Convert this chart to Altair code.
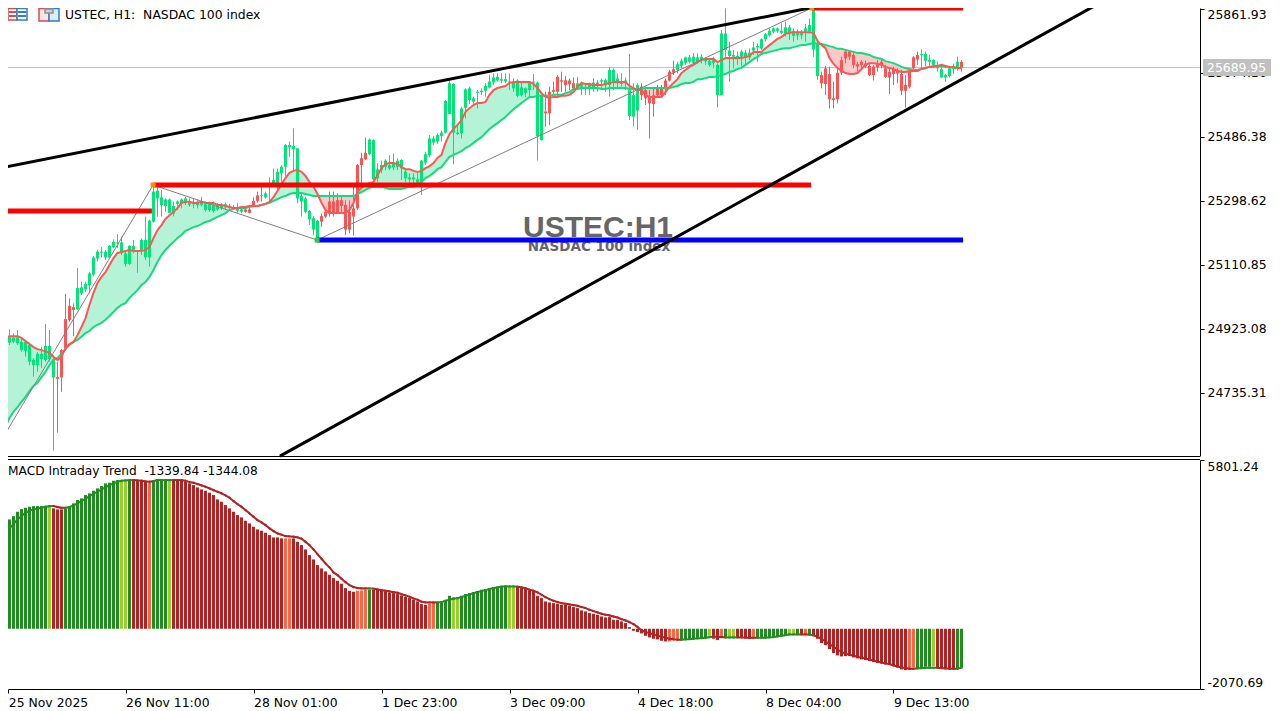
import altair as alt
import pandas as pd

BASE = 25000
# price arrays: index points above 25000
OPEN = [-119,-114,-117,-114,-119,-139,-141,-173,-183,-183,
-165,-168,-166,-219,-218,-139,-48,-9,-13,-19,
28,39,52,83,130,147,133,133,163,174,
145,114,114,155,152,155,133,133,238,306,
287,284,264,262,290,292,294,288,289,287,
287,272,272,270,274,277,280,280,276,270,
267,274,274,299,315,315,309,345,345,345,
380,399,456,450,306,297,267,245,215,189,
254,267,297,297,301,301,287,267,277,404,
424,440,436,362,365,389,399,394,397,399,
394,365,362,362,352,352,411,433,470,473,
489,499,554,499,495,497,572,595,590,616,
618,622,632,646,652,652,649,646,629,607,
609,616,624,646,489,477,561,619,624,663,
653,653,652,644,629,629,629,629,629,639,
649,644,639,649,649,642,644,548,546,564,
634,624,605,609,629,629,652,678,685,683,
695,704,707,704,707,712,709,698,704,609,
609,742,724,722,720,722,722,720,740,749,
746,773,785,795,798,792,790,788,783,785,
785,792,795,743,665,668,688,671,600,675,
712,737,737,727,700,707,702,695,693,702,
707,688,678,685,683,671,639,678,720,727,
727,710,707,698,688,661,661,665,688,688,
707]
CLOSE = [-80,-100,-102,-102,-102,-115,-115,-124,-168,-150,
-150,-127,-127,-166,-223,-219,-134,-51,-21,43,
45,55,86,133,150,150,150,167,179,177,
177,145,167,167,155,184,184,241,326,329,
309,303,303,284,297,303,306,296,294,297,
297,289,289,287,287,287,289,284,280,280,
274,267,264,287,299,313,321,348,360,384,
399,463,463,460,453,313,306,269,248,241,
238,253,262,262,264,284,215,215,253,277,
404,421,479,477,391,404,417,404,409,417,
419,385,368,368,362,417,436,482,482,492,
499,592,644,642,499,570,626,629,600,619,
622,636,649,661,663,656,656,649,646,652,
632,629,646,649,646,607,556,556,619,619,
649,639,641,629,644,644,634,644,646,646,
653,653,683,683,658,649,652,624,609,639,
609,600,585,583,609,609,629,652,675,700,
710,720,720,722,720,722,714,710,714,698,
790,790,740,727,724,737,734,734,749,753,
773,788,798,805,805,798,808,808,798,795,
795,805,815,859,761,644,642,597,595,597,
675,717,722,698,693,698,693,668,668,691,
698,663,661,671,673,622,622,634,688,714,
730,730,712,712,698,685,668,688,693,707,
690]
HIGH = [-75,-80,-78,-90,-80,-104,-109,-119,-163,-144,
-129,-62,-80,-153,-173,-136,26,13,-2,102,
62,62,91,137,155,163,155,169,186,201,
194,155,169,184,155,189,253,243,345,341,
331,306,306,297,301,306,311,306,306,303,
311,297,297,297,292,292,294,290,287,292,
282,282,282,309,326,339,326,368,394,394,
404,466,473,512,453,321,311,272,254,243,
262,272,326,326,321,311,301,301,350,407,
440,485,482,479,409,417,421,433,438,424,
421,389,380,380,380,419,443,492,489,497,
505,595,658,644,521,575,629,634,605,624,
629,644,668,673,673,673,673,673,658,656,
649,632,649,671,649,609,619,634,649,668,
678,665,658,661,663,649,644,646,658,653,
658,658,691,688,673,673,661,730,644,644,
644,629,624,629,639,639,658,683,710,707,
717,722,727,732,732,730,720,717,722,702,
800,864,766,742,737,742,742,746,766,761,
776,792,805,808,808,820,825,815,805,802,
800,818,834,864,766,678,695,693,649,688,
722,740,742,737,707,712,710,704,698,712,
712,698,688,693,688,683,668,688,724,737,
743,737,727,714,707,693,671,693,702,722,
712]
LOW = [-121,-121,-124,-119,-124,-144,-158,-183,-217,-202,
-192,-173,-173,-434,-381,-261,-139,-56,-98,-21,
23,32,28,77,121,133,125,130,160,160,
140,106,111,145,88,140,125,106,235,253,
253,267,262,253,272,277,287,282,277,277,
282,267,267,264,270,272,272,276,272,264,
262,264,262,282,294,297,306,297,341,326,
345,370,428,389,292,253,262,228,199,184,
223,248,253,253,260,262,199,204,197,272,
350,419,433,345,355,380,389,389,389,389,
360,355,350,350,345,316,404,427,463,466,
473,497,585,406,492,482,541,583,580,570,
609,605,629,639,649,644,644,624,619,603,
605,603,605,624,417,476,517,521,612,609,
619,619,624,624,624,609,609,609,619,619,
624,619,605,624,629,634,624,536,517,507,
595,580,482,546,605,605,609,649,668,673,
688,698,702,698,702,702,698,693,688,573,
609,722,649,688,698,693,698,712,727,707,
742,766,781,790,792,788,781,771,766,771,
773,766,790,722,654,629,609,570,570,585,
668,702,712,688,678,688,688,665,652,678,
688,659,612,639,644,609,573,629,678,698,
683,693,695,688,678,659,649,661,671,681,
678]
FAST = [-112,-103,-98,-98,-98,-103,-112,-121,-130,-136,
-139,-142,-147,-159,-168,-159,-133,-121,-115,-95,
-71,-45,-6,29,58,76,90,111,131,146,
149,152,155,152,152,152,155,164,190,213,
228,246,257,266,278,293,296,296,293,293,
296,293,293,293,287,287,284,281,278,278,
281,281,284,284,284,287,290,296,310,328,
348,366,381,387,390,384,372,354,340,319,
293,272,263,263,263,263,263,272,293,325,
337,346,351,354,375,395,407,410,410,407,
398,392,392,387,384,387,395,401,410,425,
434,469,495,510,522,536,560,571,580,586,
586,589,610,624,630,633,636,645,648,648,
648,648,648,642,630,615,604,601,604,604,
607,607,610,618,633,645,642,642,639,639,
639,642,645,648,648,648,648,636,630,624,
624,610,604,604,604,604,618,633,645,656,
674,683,692,698,706,712,715,715,715,706,
712,718,718,718,718,718,721,724,736,736,
736,747,756,765,774,780,789,792,794,794,
794,794,794,792,768,756,747,718,701,689,
680,674,671,671,674,686,698,703,703,701,
698,692,689,686,680,677,677,680,680,680,
686,689,692,695,695,698,695,692,692,689,
689]
SLOW = [-388,-364,-338,-320,-306,-291,-276,-259,-244,-235,
-218,-203,-183,-168,-162,-150,-136,-124,-115,-109,
-100,-89,-83,-71,-65,-59,-50,-39,-27,-15,
-6,-1,14,26,37,52,61,76,96,120,
140,155,167,178,190,199,211,216,222,225,
231,237,240,246,252,257,263,272,275,278,
278,278,281,284,284,287,290,293,299,304,
310,313,319,322,322,322,319,316,313,313,
313,313,313,313,313,313,313,313,313,319,
325,331,337,340,340,340,337,334,334,334,
334,337,340,340,346,354,366,372,381,392,
398,413,428,434,439,445,454,460,469,478,
486,498,510,519,527,536,545,557,568,577,
586,595,604,604,607,607,607,607,610,610,
610,615,618,627,627,630,630,630,630,630,
627,627,630,630,630,630,630,627,627,627,
627,630,630,630,630,630,630,630,633,636,
642,645,645,648,656,656,659,662,662,665,
668,671,677,680,686,689,698,706,715,721,
730,733,736,739,742,745,747,747,750,753,
756,756,759,762,759,759,756,753,750,745,
745,742,739,736,733,733,730,727,721,718,
715,709,706,703,698,692,689,686,683,683,
686,689,692,692,695,695,692,692,689,689,
689]
HIST = [3507,3679,3759,3873,4022,4114,4160,4194,4217,4217,
4217,4217,4194,4137,4103,4103,4137,4217,4309,4424,
4481,4595,4653,4744,4825,4905,4997,5019,5088,5111,
5111,5111,5134,5134,5111,5088,5054,5019,5088,5134,
5134,5134,5134,5134,5111,5088,5054,4997,4939,4859,
4790,4744,4676,4595,4446,4366,4252,4137,4022,3908,
3828,3713,3621,3507,3415,3369,3300,3220,3140,3140,
3106,3106,3106,3106,2991,2876,2727,2533,2384,2189,
2074,1971,1857,1742,1650,1547,1398,1306,1272,1306,
1318,1341,1341,1341,1341,1318,1284,1249,1226,1192,
1146,1089,1054,997,940,848,825,860,882,905,
905,974,1134,1089,1089,1134,1192,1226,1260,1295,
1341,1364,1398,1433,1444,1478,1478,1455,1433,1455,
1398,1364,1318,1284,1134,1054,940,905,882,860,
825,825,791,745,710,630,596,539,516,481,
424,390,401,309,309,252,195,57,-69,-115,
-160,-241,-298,-344,-367,-413,-435,-435,-390,-367,
-355,-355,-344,-321,-321,-321,-298,-241,-344,-390,
-298,-298,-298,-298,-298,-321,-298,-355,-275,-321,
-321,-321,-298,-275,-252,-229,-206,-183,-183,-183,
-206,-183,-183,-229,-344,-493,-562,-699,-837,-917,
-951,-940,-940,-986,-1020,-1054,-1077,-1112,-1146,-1180,
-1192,-1215,-1238,-1272,-1329,-1398,-1421,-1421,-1329,-1375,
-1329,-1306,-1306,-1284,-1329,-1352,-1387,-1398,-1387,-1375,
-1340]
SIGNAL = [3071,3255,3449,3598,3759,3873,3988,4057,4103,4137,
4160,4194,4217,4217,4183,4160,4160,4183,4240,4309,
4389,4469,4561,4641,4710,4790,4859,4939,4997,5054,
5088,5100,5111,5111,5100,5088,5065,5054,5077,5111,
5111,5111,5111,5111,5111,5111,5088,5042,5019,4974,
4928,4882,4825,4767,4710,4653,4584,4504,4389,4286,
4194,4080,3965,3851,3736,3656,3564,3449,3358,3278,
3232,3186,3174,3163,3140,3094,2991,2876,2727,2567,
2407,2246,2109,1937,1845,1719,1604,1501,1433,1398,
1387,1387,1387,1375,1352,1329,1306,1284,1261,1238,
1192,1146,1100,1043,997,928,905,905,905,905,
917,963,997,1031,1054,1089,1134,1180,1226,1261,
1295,1329,1364,1398,1421,1444,1455,1455,1455,1444,
1421,1398,1341,1306,1249,1169,1089,1020,963,917,
882,860,837,814,791,745,711,653,607,562,
516,481,458,424,390,332,286,229,160,60,
-60,-115,-149,-195,-241,-275,-309,-344,-367,-378,
-378,-367,-355,-344,-332,-321,-309,-286,-275,-275,
-286,-298,-298,-298,-298,-298,-309,-309,-309,-309,
-309,-309,-298,-286,-264,-241,-218,-195,-195,-195,
-195,-195,-206,-229,-275,-344,-435,-527,-619,-711,
-791,-859,-894,-928,-963,-997,-1020,-1054,-1089,-1123,
-1157,-1192,-1215,-1261,-1295,-1329,-1352,-1375,-1375,-1364,
-1352,-1341,-1341,-1341,-1341,-1352,-1364,-1375,-1375,-1375,
-1344]
STATE_RUNS = [("g",12),("y",1),("r",3),("g",14),("y",2),("g",1),("r",4),("t",1),("g",4),("y",1),
("r",28),("t",2),("r",16),("t",3),("g",1),("r",14),("t",2),("g",4),("y",2),("g",12),("y",2),
("r",38),("t",3),("g",7),("y",1),("r",2),("t",1),("g",1),("y",2),("r",4),("t",1),("g",8),("y",2),
("g",1),("r",1),("t",1),("g",1),("r",24),("t",2),("g",4),("y",1),("r",5),("g",2)]
STATE = [s for s, n in STATE_RUNS for _ in range(n)]

PRICE_TICKS = [25861.93, 25674.16, 25486.38, 25298.62, 25110.85, 24923.08, 24735.31]
MACD_TICKS = [5801.24, -2070.69]
TIME_BARS = [1.7, 31, 63, 95, 127, 159, 191, 223]
TIME_LABELS = ["25 Nov 2025", "26 Nov 11:00", "28 Nov 01:00", "1 Dec 23:00",
               "3 Dec 09:00", "4 Dec 18:00", "8 Dec 04:00", "9 Dec 13:00"]
LAST_PRICE = 25689.95

# drawn objects: bar index, price-above-25000
UP_TREND = ([-0.4, 214.6], [395, 894])
LOW_TREND = ([69.6, 275.9], [-450, 888])
ZIGZAG = ([-0.4, 37.9, 78.9, 202.6], [-411, 345.5, 184, 865])
RED_LEVELS = [(-0.4, 37.6, 269), (38, 202.4, 345.5), (202.6, 240.4, 865)]
BLUE_LEVELS = [(78.9, 240.4, 184)]
PIVOTS = [(37.9, 345.5, "#ff8c00"), (78.9, 184, "#32cd32"), (202.6, 865, "#ff8c00")]

n = len(OPEN)
assert all(len(a) == n for a in (CLOSE, HIGH, LOW, FAST, SLOW, HIST, SIGNAL, STATE)) and n == 241
df = pd.DataFrame({"i": range(n), "open": OPEN, "close": CLOSE, "high": HIGH, "low": LOW,
                   "fast": FAST, "slow": SLOW, "hist": HIST, "sig": SIGNAL, "state": STATE})
for c in ["open", "close", "high", "low", "fast", "slow"]:
    df[c] = df[c] + BASE
df["candle"] = ["#00e676" if c >= o else "#ff5252" for o, c in zip(df["open"], df["close"])]
df["gt"] = df[["fast", "slow"]].max(axis=1)
df["lt"] = df[["fast", "slow"]].min(axis=1)
df["i2"] = df["i"] + 1
df["sig2"] = df["sig"].shift(-1)
HISTC = {"g": "#228b22", "y": "#9acd32", "r": "#b22222", "t": "#ff6347"}
SIGC = {"g": "#228b22", "y": "#228b22", "r": "#b22222", "t": "#b22222"}
df["hc"] = df["state"].map(HISTC)
df["sc"] = df["state"].map(SIGC)
seg = df.iloc[:-1]

W, H = 1192, 681
FONT = "DejaVu Sans"
xscale = alt.Scale(domain=[1.625, 299.625], range=[0, W], nice=False, zero=False, padding=0)
xaxis = alt.Axis(values=TIME_BARS, title=None, grid=False, labelAlign="left", labelPadding=3, tickSize=4,
                 labelExpr="%s[indexof(%s, datum.value)]" % (TIME_LABELS, TIME_BARS),
                 labelFontSize=12.4, labelFont=FONT, labelColor="#000", labelOverlap=False,
                 labelFlush=False, domainColor="#000", tickColor="#000")
mscale = alt.Scale(domain=[24550.4, 25864.8], range=[448, 0], nice=False, zero=False)
maxis = alt.Axis(values=PRICE_TICKS, title=None, grid=False, orient="right", offset=0, format=".2f",
                 tickSize=4, labelPadding=3, labelFontSize=12.4, labelFont=FONT, labelColor="#000",
                 labelOverlap=False, labelFlush=False, domainColor="#000", tickColor="#000",
                 labelBaseline={"condition": {"test": "datum.value > 25800", "value": "top"}, "value": "middle"})
dscale = alt.Scale(domain=[-2070.69, 5801.24], range=[H, 452], nice=False, zero=False)
daxis = alt.Axis(values=MACD_TICKS, title=None, grid=False, orient="right", offset=0, format=".2f",
                 labelExpr="replace(datum.label, '\u2212', '-')",
                 tickSize=4, labelPadding=3, labelFontSize=12.4, labelFont=FONT, labelColor="#000",
                 labelOverlap=False, labelFlush=False, domainColor="#000", tickColor="#000",
                 labelBaseline={"condition": {"test": "datum.value > 0", "value": "top"}, "value": "bottom"})

X = lambda f="i": alt.X(f"{f}:Q", scale=xscale, axis=xaxis)
YM = lambda f: alt.Y(f"{f}:Q", scale=mscale, axis=maxis)
YD = lambda f: alt.Y(f"{f}:Q", scale=dscale, axis=daxis)
C = lambda f: alt.Color(f"{f}:N", scale=None, legend=None)
ONE = pd.DataFrame({"a": [0]})


def levels(rows, color):
    d = pd.DataFrame(rows, columns=["a", "b", "p"])
    d["p"] = d["p"] + BASE
    return alt.Chart(d).mark_rule(strokeWidth=5, color=color, clip=True).encode(x=X("a"), x2="b:Q", y=YM("p"))


def polyline(pair, color, w):
    d = pd.DataFrame({"a": pair[0], "p": [p + BASE for p in pair[1]]})
    return alt.Chart(d).mark_line(color=color, strokeWidth=w, clip=True).encode(x=X("a"), y=YM("p"))


base = alt.Chart(df)
main_layers = [
    alt.Chart(pd.DataFrame({"p": [LAST_PRICE]})).mark_rule(color="#c0c0c0", strokeWidth=1).encode(
        y=YM("p"), x=alt.value(0), x2=alt.value(W)),
    base.mark_area(color="#b4f3d6", clip=True).encode(x=X(), y=YM("gt"), y2="slow:Q"),
    base.mark_area(color="#fbc9c9", clip=True).encode(x=X(), y=YM("lt"), y2="slow:Q"),
    base.mark_rule(strokeWidth=1, clip=True).encode(x=X(), y=YM("low"), y2="high:Q", color=C("candle")),
    base.mark_bar(size=3, orient="vertical", clip=True).encode(x=X(), y=YM("open"), y2="close:Q", color=C("candle")),
    base.mark_line(color="#13dc7c", strokeWidth=2, clip=True).encode(x=X(), y=YM("slow")),
    base.mark_line(color="#ff5555", strokeWidth=2, clip=True).encode(x=X(), y=YM("fast")),
]
main_layers += [alt.Chart(ONE).mark_text(text="USTEC:H1", font="Liberation Sans", fontWeight="bold", fontSize=30,
                                         color="#666666", align="center", baseline="middle").encode(
                    x=alt.value(590), y=alt.value(220)),
                alt.Chart(ONE).mark_text(text="NASDAC 100 index", font=FONT, fontWeight="bold", fontSize=13.5,
                                         color="#666666", align="center", baseline="middle").encode(
                    x=alt.value(591), y=alt.value(239))]
main_layers += [polyline(ZIGZAG, "#808080", 1), levels(RED_LEVELS, "#ff0000"), levels(BLUE_LEVELS, "#0000ff"),
                polyline(UP_TREND, "#000000", 3), polyline(LOW_TREND, "#000000", 3)]
piv = pd.DataFrame(PIVOTS, columns=["a", "p", "c"])
piv["p"] = piv["p"] + BASE
main_layers.append(alt.Chart(piv).mark_point(shape="square", filled=True, size=25, opacity=1, clip=True).encode(
    x=X("a"), y=YM("p"), color=C("c")))

macd_layers = [
    base.mark_bar(size=3, orient="vertical", clip=True).encode(
        x=X(), y=YD("hist"), y2=alt.datum(0), color=C("hc")),
    alt.Chart(seg).mark_rule(strokeWidth=2, strokeCap="square", clip=True).encode(
        x=X(), x2="i2:Q", y=YD("sig"), y2="sig2:Q", color=C("sc")),
]


def txt(s, x, y, **kw):
    o = dict(font=FONT, fontSize=12.4, color="#000000", align="left", baseline="middle")
    o.update(kw)
    return alt.Chart(ONE).mark_text(text=s, **o).encode(x=alt.value(x - 8), y=alt.value(y - 8))


def box(x1, y1, x2, y2, fill, stroke=None):
    o = dict(color=fill)
    if stroke:
        o.update(stroke=stroke, strokeWidth=1.5)
    return alt.Chart(ONE).mark_rect(**o).encode(x=alt.value(x1 - 8), x2=alt.value(x2 - 8),
                                                y=alt.value(y1 - 8), y2=alt.value(y2 - 8))


def rule(y):
    return alt.Chart(ONE).mark_rule(color="#000000").encode(x=alt.value(0), x2=alt.value(W), y=alt.value(y))


RED, BLU = "#e04848", "#2f7fc4"
overlay = [
    rule(448.5), rule(451.5),
    box(8, 8.5, 17, 20, "#ffffff", RED), box(17, 8.5, 27, 20, "#ffffff", BLU),
    box(9, 11, 16, 13, RED), box(9, 15, 16, 17, RED), box(18, 11, 26, 13, BLU), box(18, 15, 26, 17, BLU),
    box(39, 8.5, 49, 21, "#fde6e6", RED), box(49, 8.5, 59, 21, "#dcebf8", BLU),
    box(45, 9, 53, 13, "#d0d0d0", "#909090"),
    txt("USTEC, H1:\u00a0\u00a0NASDAC 100 index", 65, 15),
    txt("MACD Intraday Trend\u00a0\u00a0-1339.84 -1344.08", 8, 471, fontSize=12.2),
    box(1203, 59, 1271, 76, "#c0c0c0"),
    txt("25689.95", 1207, 68, color="#ffffff"),
]

chart = alt.layer(
    alt.layer(alt.layer(*main_layers), alt.layer(*macd_layers)).resolve_scale(y="independent"),
    *overlay,
).properties(
    width=W, height=H, padding={"left": 0, "top": 0, "right": 77, "bottom": 19},
    autosize=alt.AutoSizeParams(type="none"),
).configure_view(stroke=None)

chart.save("out.html", embed_options={"renderer": "svg", "actions": False})
